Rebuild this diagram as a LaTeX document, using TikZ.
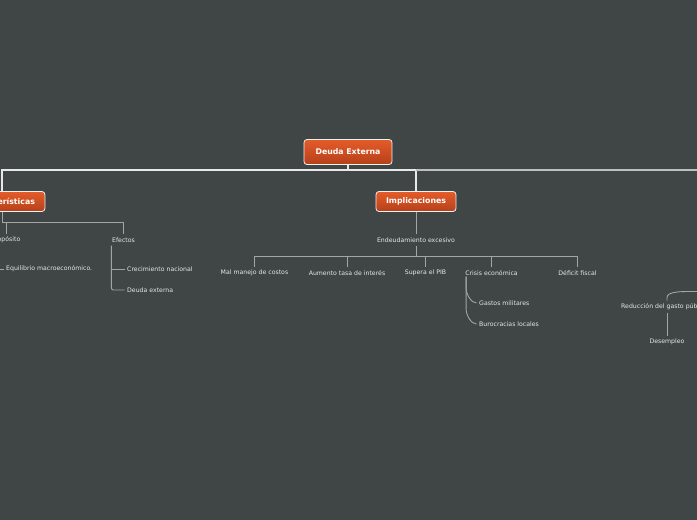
\documentclass[tikz,border=0pt]{standalone}
\usepackage{fontspec}
\setmainfont{DejaVu Sans}
\usetikzlibrary{calc}
\definecolor{bg}{RGB}{64,69,69}
\definecolor{boxtop}{RGB}{228,92,42}
\definecolor{boxbot}{RGB}{182,64,26}
\definecolor{lbl}{RGB}{232,232,232}
\definecolor{mainline}{RGB}{232,232,232}
\definecolor{mainlinetwo}{RGB}{190,190,190}
\definecolor{subline}{RGB}{165,165,165}
\tikzset{
  topic/.style={draw=white!90!gray, line width=0.8pt, rounded corners=3pt,
    top color=boxtop, bottom color=boxbot, text=white,
    font=\fontsize{7.8}{9}\selectfont\bfseries, inner xsep=10pt, inner ysep=0pt,
    minimum height=20pt},
  lab/.style={text=lbl, font=\fontsize{6.2}{7}\selectfont, inner xsep=2.5pt, inner ysep=3pt},
  mainconn/.style={draw=mainline, line width=1.2pt},
  mainconntwo/.style={draw=mainlinetwo, line width=1.2pt},
  subconn/.style={draw=subline, line width=0.9pt},
}
\begin{document}
\begin{tikzpicture}[x=1pt,y=-1pt]
\useasboundingbox (0,0) rectangle (697,520);
\clip (0,0) rectangle (697,520);
\fill[bg] (-5,-5) rectangle (702,525);

% topics
\node[topic, minimum height=25pt, minimum width=88pt] (root) at (348,152) {Deuda Externa};
\node[topic] (car) at (2,201.5) {Características};
\node[topic] (imp) at (416,201.5) {Implicaciones};

\coordinate (bar) at (348,170);
\coordinate (rend) at (710,170);

\draw[mainconn] (root.south) -- (bar);
\draw[mainconn] (car.north) |- (imp.north |- bar) -- (imp.north);
\draw[mainconntwo] (imp.north |- bar) -- (rend);

% Características branch
\node[lab] (prop) at (6,240) {Propósito};
\node[lab] (efe) at (123.5,240) {Efectos};
\node[lab, anchor=west] (equi) at (3.5,269) {Equilibrio macroeconómico.};
\node[lab, anchor=west] (crec) at (124.5,269) {Crecimiento nacional};
\node[lab, anchor=west] (deu) at (124.5,290) {Deuda externa};
\coordinate (cbar) at (2,222);

\draw[subconn] (car.south) -- (cbar) -| (efe.north);
\draw[subconn] (prop.north) -- (prop.north |- cbar);
\draw[subconn] (prop.south west) |- (equi.west);
\draw[subconn] ([xshift=2pt]efe.south west) |- (crec.west);
\draw[subconn, rounded corners=2pt] ([xshift=2pt]efe.south west) |- (deu.west);

% Implicaciones branch
\node[lab] (end) at (416,240) {Endeudamiento excesivo};
\coordinate (ibar) at (416,256.5);
\node[lab] (mal) at (254.5,273) {Mal manejo de costos};
\node[lab] (aum) at (347,273) {Aumento tasa de interés};
\node[lab] (sup) at (425.5,273) {Supera el PIB};
\node[lab] (cri) at (491.5,273) {Crisis económica};
\node[lab] (def) at (577.5,273) {Déficit fiscal};

\draw[subconn] (imp.south) -- (end.north);
\draw[subconn] (end.south) -- (ibar);
\draw[subconn] (mal.north) |- (ibar) -| (def.north);
\draw[subconn] (aum.north) -- (aum.north |- ibar);
\draw[subconn] (sup.north) -- (sup.north |- ibar);
\draw[subconn] (cri.north) -- (cri.north |- ibar);

\node[lab, anchor=west] (gas) at (476.5,303) {Gastos militares};
\node[lab, anchor=west] (bur) at (476.5,324) {Burocracias locales};
\coordinate (cs) at ([xshift=3.5pt,yshift=2pt]cri.south west);
\draw[subconn] (cs) -- ++(0,11) .. controls +(0,7) and +(-5,0) .. (gas.west);
\draw[subconn] (cs) -- ++(0,32) .. controls +(0,7) and +(-5,0) .. (bur.west);

% right branch
\node[lab, anchor=west] (red) at (618.5,307) {Reducción del gasto público};
\node[lab] (des) at (667,342) {Desempleo};
\coordinate (rtop) at (des.north |- red.north);
\coordinate (rpar) at (710,291.5);
\draw[subconn] (des.north) -- (des.north |- red.south);
\draw[subconn] (rtop) -- ++(0,-3) .. controls +(0,-6) and +(-10,0) .. ([xshift=-20pt]rpar) -- (rpar);
\end{tikzpicture}
\end{document}
